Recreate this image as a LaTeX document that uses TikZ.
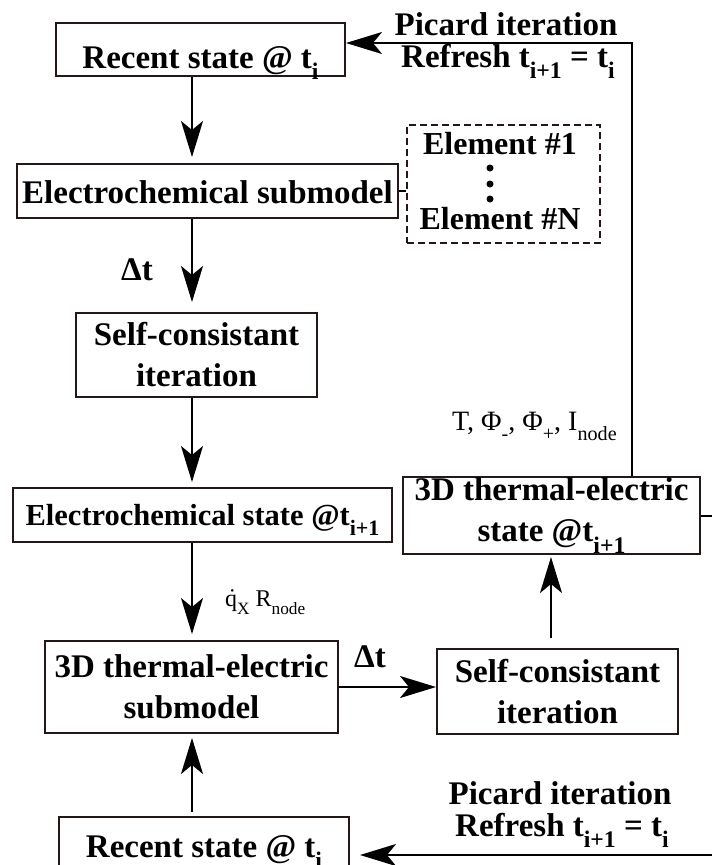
\documentclass[tikz,border=0pt]{standalone}
\usepackage{fontspec}
\setmainfont{Liberation Serif}
\usetikzlibrary{arrows.meta,calc}
\definecolor{boxc}{HTML}{231815}
\newcommand\sbs[1]{\raisebox{-0.36em}{\scalebox{0.72}{#1}}}
\begin{document}
\begin{tikzpicture}[x=1pt,y=-1pt,
  box/.style={draw=boxc,line width=2pt,inner sep=0pt,text depth=0pt,font=\bfseries\fontsize{33}{41}\selectfont},
  mbox/.style={draw=boxc,line width=2pt,inner sep=0pt,align=center,font=\bfseries\fontsize{33}{41}\selectfont},
  dbox/.style={draw=boxc,line width=2pt,inner sep=0pt,dash pattern=on 7pt off 4pt},
  arr/.style={line width=2pt,-{Stealth[length=36pt,width=22pt,inset=9pt]}},
  ln/.style={line width=2pt},
  lbl/.style={inner sep=0pt,anchor=base,font=\bfseries\fontsize{33}{41}\selectfont},
  rlbl/.style={inner sep=0pt,anchor=base west}]
\useasboundingbox (0,0) rectangle (712,865);
% boxes
\node[box,minimum width=289pt,minimum height=53pt,text height=37pt] (top) at (200.5,49.5) {Recent state @ t\sbs{i}};
\node[box,minimum width=381pt,minimum height=54pt,text height=24pt] (ecsub) at (207.5,191) {Electrochemical submodel};
\node[dbox,minimum width=193pt,minimum height=118pt] (elem) at (503.5,184) {};
\node[mbox,minimum width=241pt,minimum height=84pt] (sc1) at (196.5,355) {Self-consistant\\iteration};
\node[box,minimum width=379pt,minimum height=54pt,text height=20pt,font=\bfseries\fontsize{30.5}{36}\selectfont] (ecstate) at (202.5,515) {Electrochemical state @t\sbs{i+1}};
\node[mbox,minimum width=297pt,minimum height=77pt] (tes) at (551.5,515.5) {3D thermal-electric\\state @t\sbs{i+1}};
\node[mbox,minimum width=293pt,minimum height=92pt] (tesub) at (191.5,687) {3D thermal-electric\\submodel};
\node[mbox,minimum width=241pt,minimum height=85pt] (sc2) at (557.5,691.5) {Self-consistant\\iteration};
\node[box,minimum width=290pt,minimum height=53pt,text height=27pt] (bot) at (204,843.5) {Recent state @ t\sbs{i}};
% element list
\node[lbl,font=\bfseries\fontsize{32}{38}\selectfont] (e1) at (500,154) {Element \#1};
\node[lbl,font=\bfseries\fontsize{32}{38}\selectfont] (eN) at (500,229) {Element \#N};
\fill (490,168) circle (3.5);
\fill (490,184) circle (3.5);
\fill (490,199) circle (3.5);
% labels
\node[lbl] (dt1) at (137,280) {Δt};
\node[lbl] (dt2) at (370,667) {Δt};
\node[lbl] (p1) at (506,35) {Picard iteration};
\node[lbl] (r1) at (508,67) {Refresh t\sbs{i+1} = t\sbs{i}};
\node[lbl] (p2) at (560,804) {Picard iteration};
\node[lbl] (r2) at (562,836) {Refresh t\sbs{i+1} = t\sbs{i}};
\node[rlbl,font=\fontsize{28}{32}\selectfont] (tlab) at (452,430) {T, Φ\sbs{-}, Φ\sbs{+}, I\sbs{node}};
\node[rlbl,font=\fontsize{24}{28}\selectfont] (qlab) at (225,606) {\.{q}\sbs{X} R\sbs{node}};
% connectors
\coordinate (axis) at (192,0);
\coordinate (upx) at (551,0);
\coordinate (rx) at (632,43);
\coordinate (redge) at (712,0);
\coordinate (bc) at (712,855);
\draw[arr,shorten >=6pt] (top.south -| axis) -- (ecsub.north -| axis);
\draw[arr,shorten >=10pt] (ecsub.south -| axis) -- (sc1.north -| axis);
\draw[arr,shorten >=5pt] (sc1.south -| axis) -- (ecstate.north -| axis);
\draw[arr,shorten >=6pt] (ecstate.south -| axis) -- (tesub.north -| axis);
\draw[arr,shorten <=4pt,shorten >=4pt] (bot.north -| axis) -- (tesub.south -| axis);
\draw[arr] (tesub.east) -- (tesub.east -| sc2.west);
\draw[arr,shorten <=10pt,shorten >=2pt] (sc2.north -| upx) -- (tes.south -| upx);
\draw[arr] (tes.north -| rx) -- (rx) -- (rx -| top.east);
\draw[ln] (tes.east) -- (tes.east -| redge);
\draw[arr,shorten >=10pt] (bc) -- (bc -| bot.east);
\draw[ln] (ecsub.east) -- (ecsub.east -| elem.west);
\end{tikzpicture}
\end{document}
